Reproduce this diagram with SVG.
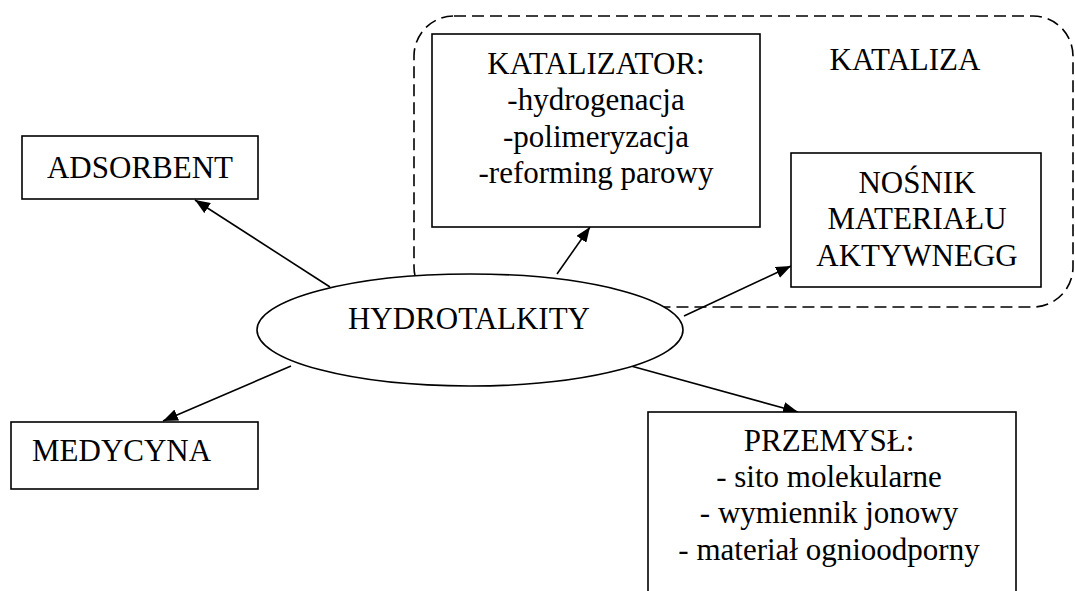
<svg xmlns="http://www.w3.org/2000/svg" width="1075" height="591" viewBox="0 0 1075 591">
<style>
.box{fill:#fff;stroke:#000;stroke-width:1.6}
.t{font-family:'Liberation Serif','Times New Roman',serif;font-size:31px;fill:#000;text-anchor:middle}
.c{stroke:#000;stroke-width:1.6;fill:none;marker-end:url(#ah)}
</style>
<defs>
<marker id="ah" markerWidth="16" markerHeight="12" refX="15" refY="6" orient="auto" markerUnits="userSpaceOnUse">
<path d="M0,0 L15,6 L0,12 Z" fill="#000"/>
</marker>
</defs>
<rect width="1075" height="591" fill="#fff"/>
<g id="kataliza">
<rect x="414" y="16" width="659" height="291" rx="40" ry="40" fill="none" stroke="#000" stroke-width="1.6" stroke-dasharray="12 6"/>
<text class="t" x="905" y="70">KATALIZA</text>
</g>
<g id="connectors">
<line class="c" x1="330" y1="287" x2="195" y2="200"/>
<line class="c" x1="557" y1="274" x2="590" y2="227"/>
<line class="c" x1="684" y1="316" x2="791" y2="266"/>
<line class="c" x1="631" y1="366" x2="798" y2="412"/>
<line class="c" x1="291" y1="366" x2="163" y2="421"/>
</g>
<g id="hydrotalkity">
<ellipse class="box" cx="470" cy="330" rx="213" ry="56"/>
<text class="t" x="469" y="329">HYDROTALKITY</text>
</g>
<g id="adsorbent">
<rect class="box" x="22" y="136" width="236" height="63"/>
<text class="t" x="140" y="178">ADSORBENT</text>
</g>
<g id="katalizator">
<rect class="box" x="432" y="34" width="328" height="193"/>
<text class="t" x="596" y="74">KATALIZATOR:</text>
<text class="t" x="596" y="110">-hydrogenacja</text>
<text class="t" x="596" y="147">-polimeryzacja</text>
<text class="t" x="596" y="183">-reforming parowy</text>
</g>
<g id="nosnik">
<rect class="box" x="791" y="153" width="250" height="134"/>
<text class="t" x="917" y="193">NOŚNIK</text>
<text class="t" x="917" y="229">MATERIAŁU</text>
<text class="t" x="917" y="266">AKTYWNEGG</text>
</g>
<g id="medycyna">
<rect class="box" x="11" y="422" width="247" height="67"/>
<text class="t" x="32" y="461" style="text-anchor:start">MEDYCYNA</text>
</g>
<g id="przemysl">
<rect class="box" x="648" y="412" width="368" height="200"/>
<text class="t" x="829" y="451">PRZEMYSŁ:</text>
<text class="t" x="829" y="487">- sito molekularne</text>
<text class="t" x="829" y="523">- wymiennik jonowy</text>
<text class="t" x="829" y="560">- materiał ognioodporny</text>
</g>
</svg>
